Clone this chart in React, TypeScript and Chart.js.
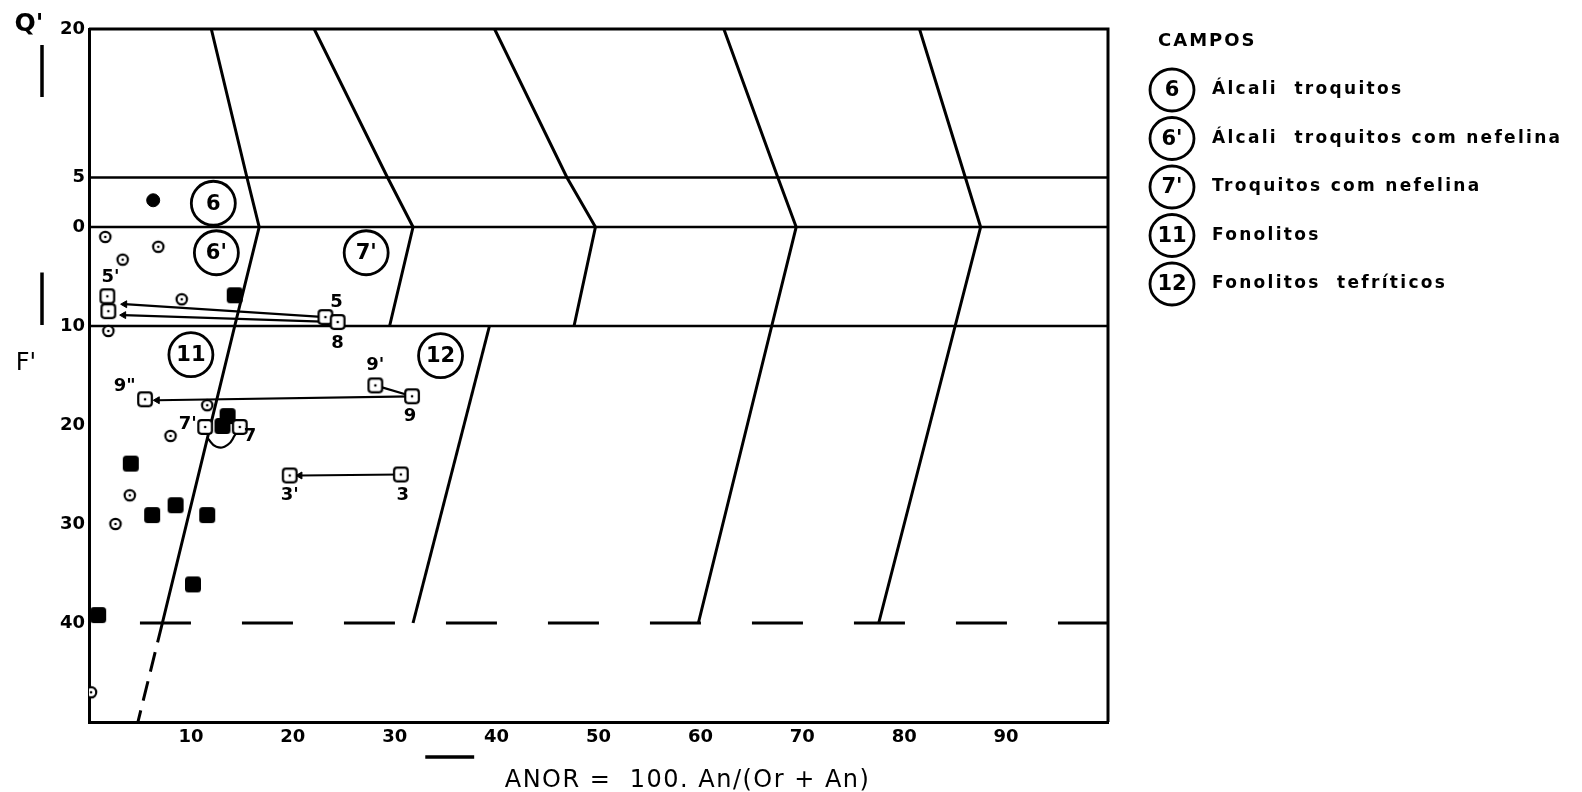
import React, { useEffect, useRef } from "react";
import { Chart, registerables } from "chart.js";

Chart.register(...registerables);

// ---- axes ----
const xTickValues = [10, 20, 30, 40, 50, 60, 70, 80, 90];
const yTickValues = [-20, -5, 0, 10, 20, 30, 40]; // negative = Q', positive = F'

// ---- field boundaries (ANOR, -Q' / F') ----
const hLineLevels = [-5, 0, 10];
const boundary1 = [
  { x: 12.0, y: -20 }, { x: 15.5, y: -5 }, { x: 16.7, y: 0 }, { x: 14.3, y: 10 }, { x: 7.2, y: 40 },
];
const boundary1Dashed = [{ x: 7.2, y: 40 }, { x: 4.8, y: 50 }];
const boundary2 = [{ x: 22.1, y: -20 }, { x: 29.3, y: -5 }, { x: 31.8, y: 0 }, { x: 29.5, y: 10 }];
const boundary3 = [{ x: 39.8, y: -20 }, { x: 46.9, y: -5 }, { x: 49.7, y: 0 }, { x: 47.6, y: 10 }];
const boundary4 = [
  { x: 62.3, y: -20 }, { x: 67.6, y: -5 }, { x: 69.4, y: 0 }, { x: 67.0, y: 10 }, { x: 59.8, y: 40 },
];
const boundary5 = [
  { x: 81.5, y: -20 }, { x: 86.0, y: -5 }, { x: 87.5, y: 0 }, { x: 85.0, y: 10 }, { x: 77.5, y: 40 },
];
const boundary12 = [{ x: 39.3, y: 10 }, { x: 31.8, y: 40 }];
const dashedF40 = [{ x: 5, y: 40 }, { x: 100, y: 40 }];

// ---- samples ----
const openCircles = [
  { x: 1.6, y: 1.0 }, { x: 6.8, y: 2.0 }, { x: 3.3, y: 3.3 }, { x: 9.1, y: 7.3 }, { x: 1.9, y: 10.5 },
  { x: 11.6, y: 18.0 }, { x: 8.0, y: 21.1 }, { x: 4.0, y: 27.1 }, { x: 2.6, y: 30.0 }, { x: 0.2, y: 47.0 },
];
const filledCircles = [{ x: 6.3, y: -2.7 }];
const filledSquares = [
  { x: 14.3, y: 6.9 }, { x: 13.6, y: 19.1 }, { x: 13.1, y: 20.1 }, { x: 4.1, y: 23.9 }, { x: 8.5, y: 28.1 },
  { x: 6.2, y: 29.1 }, { x: 11.6, y: 29.1 }, { x: 10.2, y: 36.1 }, { x: 0.9, y: 39.2 },
];
const openSquares = [
  { x: 1.8, y: 7.0 }, { x: 1.9, y: 8.5 }, { x: 23.2, y: 9.1 }, { x: 24.4, y: 9.6 }, { x: 5.5, y: 17.4 },
  { x: 28.1, y: 16.0 }, { x: 31.7, y: 17.1 }, { x: 11.4, y: 20.2 }, { x: 14.8, y: 20.2 },
  { x: 19.7, y: 25.1 }, { x: 30.6, y: 25.0 },
];

// ---- arrows / links between samples ----
const arrow5 = [{ x: 23.2, y: 9.1 }, { x: 3.5, y: 7.8 }];
const arrow8 = [{ x: 24.4, y: 9.6 }, { x: 3.4, y: 8.9 }];
const arrow9 = [{ x: 31.7, y: 17.1 }, { x: 6.7, y: 17.5 }];
const link9 = [{ x: 28.1, y: 16.0 }, { x: 31.7, y: 17.1 }];
const arrow3 = [{ x: 30.6, y: 25.0 }, { x: 20.7, y: 25.1 }];
const arc7 = [{ x: 14.4, y: 20.9 }, { x: 13.6, y: 22.0 }, { x: 12.5, y: 22.2 }, { x: 11.6, y: 21.3 }];

// ---- sample labels ----
const sampleLabelText = ["5'", "5", "8", '9"', "9'", "9", "7'", "7", "3'", "3"];
const sampleLabelX = [2.1, 24.3, 24.4, 3.5, 28.1, 31.5, 9.7, 15.8, 19.7, 30.8];
const sampleLabelY = [5.1, 7.6, 11.7, 16.1, 14.0, 19.1, 19.9, 21.1, 27.1, 27.1];

// ---- field labels ----
const fieldNames = ["6", "6'", "7'", "11", "12"];
const fieldX = [12.2, 12.5, 27.2, 10.0, 34.5];
const fieldY = [-2.4, 2.6, 2.6, 12.9, 13.0];

// ---- legend ----
const legendTitle = "CAMPOS";
const legendNums = ["6", "6'", "7'", "11", "12"];
const legendTexts = [
  "Álcali  troquitos",
  "Álcali  troquitos com nefelina",
  "Troquitos com nefelina",
  "Fonolitos",
  "Fonolitos  tefríticos",
];
const xTitle = "ANOR =  100. An/(Or + An)";

function makeMarker(kind: string): HTMLCanvasElement {
  const c = document.createElement("canvas");
  const s = 18;
  c.width = s;
  c.height = s;
  const g = c.getContext("2d")!;
  g.strokeStyle = "#000";
  g.fillStyle = "#000";
  const m = s / 2;
  if (kind === "openCircle") {
    g.lineWidth = 2.2;
    g.beginPath();
    g.arc(m, m, 5.2, 0, Math.PI * 2);
    g.fillStyle = "#fff";
    g.fill();
    g.stroke();
    g.fillStyle = "#000";
    g.beginPath();
    g.arc(m, m, 1.3, 0, Math.PI * 2);
    g.fill();
  } else if (kind === "openSquare") {
    g.lineWidth = 2.2;
    g.beginPath();
    g.roundRect(m - 6.8, m - 6.8, 13.6, 13.6, 3);
    g.fillStyle = "#fff";
    g.fill();
    g.stroke();
    g.fillStyle = "#000";
    g.beginPath();
    g.arc(m, m, 1.3, 0, Math.PI * 2);
    g.fill();
  } else {
    g.beginPath();
    g.roundRect(m - 8, m - 8, 16, 16, 3.5);
    g.fill();
  }
  return c;
}

const decorPlugin = {
  id: "decor",
  afterDatasetsDraw(chart: any) {
    const { ctx, chartArea: a, scales } = chart;
    const xs = scales.x;
    const ys = scales.y;
    ctx.save();
    ctx.strokeStyle = "#000";
    ctx.fillStyle = "#000";
    // frame top/right
    ctx.lineWidth = 3;
    ctx.beginPath();
    ctx.moveTo(a.left, a.top);
    ctx.lineTo(a.right, a.top);
    ctx.lineTo(a.right, a.bottom);
    ctx.stroke();

    // field labels
    ctx.textAlign = "center";
    ctx.textBaseline = "middle";
    ctx.font = 'bold 21px "DejaVu Sans"';
    fieldNames.forEach((t, i) => {
      ctx.fillText(t, xs.getPixelForValue(fieldX[i]), ys.getPixelForValue(fieldY[i]) + 1);
    });

    // sample labels
    ctx.font = 'bold 18px "DejaVu Sans"';
    sampleLabelText.forEach((t, i) => {
      ctx.fillText(t, xs.getPixelForValue(sampleLabelX[i]), ys.getPixelForValue(sampleLabelY[i]));
    });

    // axis symbols
    ctx.font = 'bold 25px "DejaVu Sans"';
    ctx.fillText("Q'", a.left - 60, a.top - 5);
    ctx.font = '24px "DejaVu Sans"';
    ctx.fillText("F'", a.left - 63, ys.getPixelForValue(13.8));
    ctx.lineWidth = 3.5;
    ctx.beginPath();
    ctx.moveTo(a.left - 47, a.top + 16);
    ctx.lineTo(a.left - 47, a.top + 68);
    ctx.moveTo(a.left - 47, ys.getPixelForValue(4.6));
    ctx.lineTo(a.left - 47, ys.getPixelForValue(9.9));
    ctx.moveTo(xs.getPixelForValue(33), a.bottom + 35);
    ctx.lineTo(xs.getPixelForValue(37.8), a.bottom + 35);
    ctx.stroke();

    // x title
    ctx.font = '24px "DejaVu Sans"';
    (ctx as any).letterSpacing = "1.5px";
    ctx.textAlign = "left";
    ctx.fillText(xTitle, xs.getPixelForValue(40.8), a.bottom + 59);

    // legend
    const lx = a.right + 64;
    ctx.font = 'bold 18px "DejaVu Sans"';
    (ctx as any).letterSpacing = "2px";
    ctx.fillText(legendTitle, a.right + 50, 41);
    legendNums.forEach((n, i) => {
      const cy = 90 + i * 48.5;
      ctx.lineWidth = 2.8;
      ctx.beginPath();
      ctx.ellipse(lx, cy, 22, 21, 0, 0, Math.PI * 2);
      ctx.stroke();
      (ctx as any).letterSpacing = "0px";
      ctx.textAlign = "center";
      ctx.font = 'bold 21px "DejaVu Sans"';
      ctx.fillText(n, lx, cy + 1);
      ctx.textAlign = "left";
      ctx.font = 'bold 17px "DejaVu Sans"';
      (ctx as any).letterSpacing = "2.3px";
      ctx.fillText(legendTexts[i], lx + 40, cy);
    });
    ctx.restore();
  },
};

export default function App() {
  const ref = useRef<HTMLCanvasElement | null>(null);
  useEffect(() => {
    if (!ref.current) return;
    const openCircleImg = makeMarker("openCircle");
    const openSquareImg = makeMarker("openSquare");
    const filledSquareImg = makeMarker("filledSquare");

    const line = (data: any[], extra: any = {}) => ({
      type: "scatter",
      data,
      showLine: true,
      borderColor: "#000",
      borderWidth: 3,
      pointRadius: 0,
      fill: false,
      ...extra,
    });
    const arrow = (data: any[]) =>
      line(data, {
        borderWidth: 2.2,
        pointRadius: [0, 4],
        pointStyle: "triangle",
        pointRotation: 270,
        pointBackgroundColor: "#000",
        pointBorderColor: "#000",
        pointBorderWidth: 1,
      });

    const chart = new Chart(ref.current, {
      type: "scatter",
      data: {
        datasets: [
          { data: openSquares, pointStyle: openSquareImg, pointRadius: 9 } as any,
          { data: openCircles, pointStyle: openCircleImg, pointRadius: 7 } as any,
          { data: filledSquares, pointStyle: filledSquareImg, pointRadius: 9 } as any,
          { data: filledCircles, pointStyle: "circle", pointRadius: 6.5, backgroundColor: "#000", borderColor: "#000" } as any,
          {
            data: fieldNames.map((_, i) => ({ x: fieldX[i], y: fieldY[i] })),
            pointStyle: "circle",
            pointRadius: 22,
            borderWidth: 2.8,
            borderColor: "#000",
            backgroundColor: "#fff",
          } as any,
          arrow(arrow5),
          arrow(arrow8),
          arrow(arrow9),
          arrow(arrow3),
          line(link9, { borderWidth: 2.2 }),
          line(arc7, { borderWidth: 2.2, tension: 0.5 }),
          line(boundary1),
          line(boundary1Dashed, { borderDash: [20, 10] }),
          line(boundary2),
          line(boundary3),
          line(boundary4),
          line(boundary5),
          line(boundary12),
          line(dashedF40, { borderDash: [51, 51] }),
          ...hLineLevels.map((lv) => line([{ x: 0, y: lv }, { x: 100, y: lv }], { borderWidth: 2.6 })),
        ] as any,
      },
      options: {
        animation: false,
        responsive: false,
        events: [],
        layout: { padding: { left: 0, right: 474, top: 29, bottom: 0 } },
        plugins: { legend: { display: false }, tooltip: { enabled: false } },
        scales: {
          x: {
            type: "linear",
            min: 0,
            max: 100,
            afterBuildTicks: (s: any) => {
              s.ticks = xTickValues.map((v) => ({ value: v }));
            },
            afterFit: (s: any) => {
              s.height = 70;
            },
            grid: { display: false, drawTicks: false },
            border: { color: "#000", width: 3 },
            ticks: {
              color: "#000",
              padding: 5,
              maxRotation: 0,
              autoSkip: false,
              font: { family: "DejaVu Sans", weight: "bold", size: 18 },
            },
          },
          y: {
            type: "linear",
            reverse: true,
            min: -20,
            max: 50,
            afterBuildTicks: (s: any) => {
              s.ticks = yTickValues.map((v) => ({ value: v }));
            },
            afterFit: (s: any) => {
              s.width = 89;
            },
            grid: { display: false, drawTicks: false },
            border: { color: "#000", width: 3 },
            ticks: {
              color: "#000",
              padding: 4,
              autoSkip: false,
              callback: (v: any) => String(Math.abs(Number(v))),
              font: { family: "DejaVu Sans", weight: "bold", size: 18 },
            },
          },
        },
      } as any,
      plugins: [decorPlugin],
    });
    return () => chart.destroy();
  }, []);

  return (
    <div style={{ position: "fixed", left: 0, top: 0, width: 1582, height: 792, background: "#fff" }}>
      <canvas ref={ref} width={1582} height={792} style={{ display: "block" }} />
    </div>
  );
}
